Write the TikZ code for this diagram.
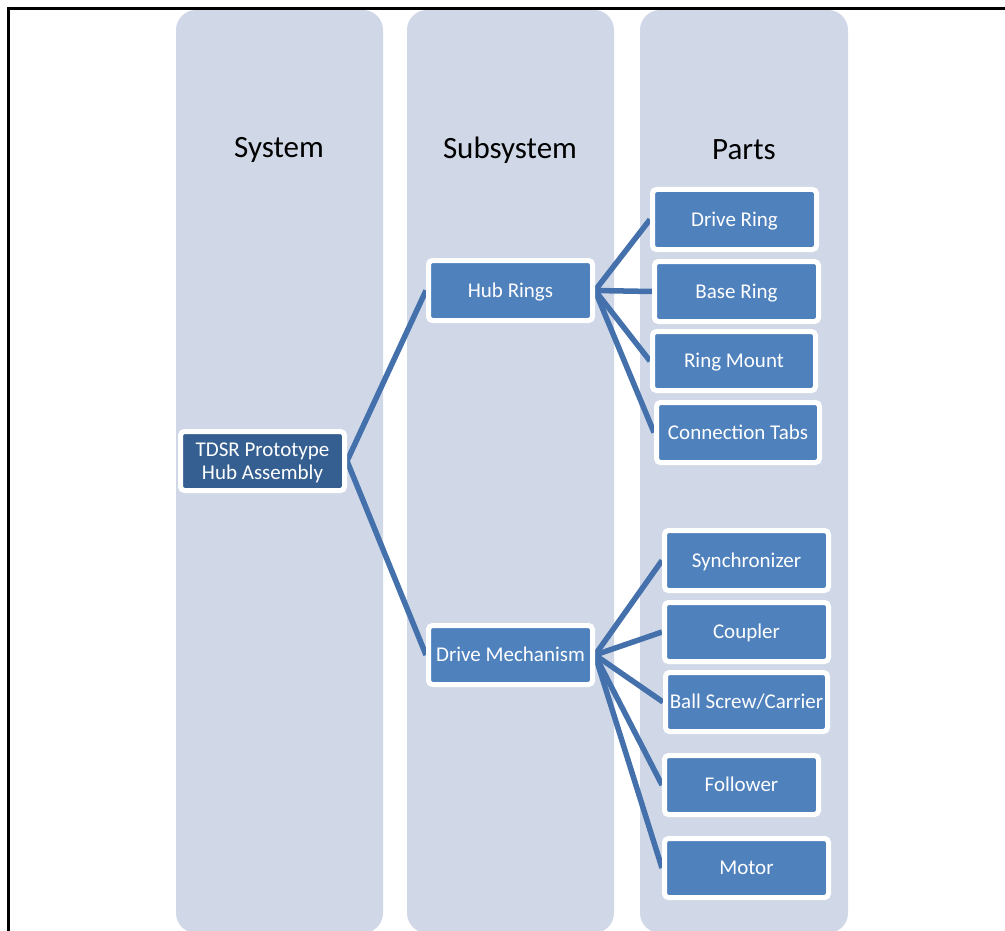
\documentclass[tikz,border=0pt]{standalone}
\usepackage{fontspec}
\setmainfont{Carlito}
\definecolor{colbg}{HTML}{D0D8E8}
\definecolor{nodefill}{HTML}{4F81BD}
\definecolor{topfill}{HTML}{365F91}
\definecolor{linkc}{HTML}{4471AC}
\pgfdeclarelayer{bg}
\pgfdeclarelayer{links}
\pgfsetlayers{bg,links,main}
\tikzset{
  column/.style={fill=colbg, rounded corners=20pt},
  header/.style={font=\fontsize{31}{36}\selectfont, text=black},
  box/.style={draw=white, line width=5pt, fill=nodefill, rounded corners=4pt,
    inner sep=0pt, text=white, align=center, font=\fontsize{21}{23.3}\selectfont,
    minimum width=164pt, minimum height=60pt, text height=13.6pt, text depth=0pt},
  topbox/.style={box, fill=topfill, text height=36.9pt},
  link/.style={draw=linkc, line width=5.5pt},
}
\begin{document}
\begin{tikzpicture}[x=1pt,y=-1pt]
\useasboundingbox (0,0) rectangle (1005,931);
\begin{pgfonlayer}{bg}
\begin{scope}
\clip (0,0) rectangle (1005,931);
\fill[column] (176,10) rectangle (383,933);
\fill[column] (407,10) rectangle (614,933);
\fill[column] (640,10) rectangle (848,933);
\draw[line width=3.5pt, black] (1010,8.5) -- (8.5,8.5) -- (8.5,940);
\end{scope}
\end{pgfonlayer}

\node[header] (hsys) at (279,150) {System};
\node[header] (hsub) at (510,150) {Subsystem};
\node[header] (hpar) at (744,150) {Parts};

\node[topbox, minimum height=59pt] (top) at (262.5,461) {TDSR Prototype\\Hub Assembly};
\node[box] (hub) at (510.5,290.5) {Hub Rings};
\node[box, minimum height=59pt] (drv) at (510.5,655) {Drive Mechanism};
\node[box] (dring) at (734.5,219.5) {Drive Ring};
\node[box] (bring) at (736.5,291.5) {Base Ring};
\node[box, minimum width=163pt, minimum height=59pt] (rmount) at (734,361) {Ring Mount};
\node[box, minimum width=163pt] (ctabs) at (738,432.5) {Connection Tabs};
\node[box] (sync) at (746.5,560.5) {Synchronizer};
\node[box, minimum height=59pt] (coup) at (746.5,632) {Coupler};
\node[box, minimum width=162pt, minimum height=59pt] (ball) at (746.5,702) {Ball Screw/Carrier};
\node[box, minimum width=154pt, minimum height=59pt] (foll) at (741.5,785) {Follower};
\node[box, minimum height=59pt] (motor) at (746.5,868) {Motor};

\begin{pgfonlayer}{links}
\draw[link] (top.east) -- (hub.west);
\draw[link] (top.east) -- (drv.west);
\draw[link] (hub.east) -- (dring.west);
\draw[link] (hub.east) -- (bring.west);
\draw[link] (hub.east) -- (rmount.west);
\draw[link] (hub.east) -- (ctabs.west);
\draw[link] (drv.east) -- (sync.west);
\draw[link] (drv.east) -- (coup.west);
\draw[link] (drv.east) -- (ball.west);
\draw[link] (drv.east) -- (foll.west);
\draw[link] (drv.east) -- (motor.west);
\end{pgfonlayer}
\end{tikzpicture}
\end{document}
